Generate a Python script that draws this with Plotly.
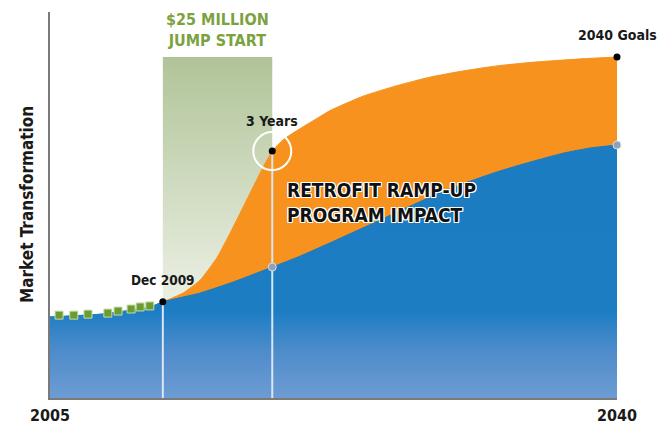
import plotly.graph_objects as go

# Timeline position runs 0 (2005) to 100 (2040); values are market transformation index (2040 goal = 100)
baseline_x = [0, 8.8, 17.6, 19.9, 26.5, 32.3, 39.2, 44.1, 49.4, 55.2, 61.2, 67.0, 72.8, 78.8, 84.7, 90.5, 95.2, 100]
baseline_y = [23.8, 24.6, 26.7, 28.2, 30.8, 34.0, 38.4, 41.6, 45.5, 49.9, 54.5, 58.9, 62.8, 66.3, 69.2, 71.8, 73.3, 74.2]

program_x = [19.9, 23.5, 26.5, 29.5, 32.3, 35.3, 37.6, 39.2, 41.1, 44.1, 47.1, 49.4, 55.2, 61.2, 67.0, 72.8, 78.8, 84.7, 90.5, 95.2, 100]
program_y = [28.2, 30.8, 34.6, 41.3, 50.1, 60.1, 67.7, 72.4, 75.7, 79.0, 82.0, 84.3, 88.5, 91.6, 94.1, 95.9, 97.4, 98.4, 99.1, 99.6, 100]

history_x = [1.6, 4.2, 6.7, 10.2, 12.0, 14.3, 15.9, 17.6]
history_y = [24.3, 24.3, 24.6, 24.9, 25.5, 26.1, 26.7, 27.0]

dec2009 = (19.9, 28.2)
three_years_x = 39.2
three_years_program = 72.4
three_years_base = 38.4
goal_x = 100
goal_program = 100
goal_base = 74.2
jump_start_top = 100

tick_vals = [0, 100]
tick_text = ["<b>2005</b>", "<b>2040</b>"]

FONT = "DejaVu Sans Condensed, DejaVu Sans, sans-serif"

fig = go.Figure()

# $25M jump-start band
fig.add_trace(go.Scatter(
    x=[dec2009[0], three_years_x, three_years_x, dec2009[0], dec2009[0]],
    y=[0, 0, jump_start_top, jump_start_top, 0],
    mode="lines", line=dict(width=0), fill="toself",
    fillgradient=dict(type="vertical", start=0, stop=jump_start_top,
                      colorscale=[[0, "#f7f9f3"], [0.35, "#e6ecdd"], [1, "#b0c498"]]),
    hoverinfo="skip", showlegend=False))

# Retrofit ramp-up program curve
fig.add_trace(go.Scatter(
    x=program_x, y=program_y, mode="lines",
    line=dict(color="#f7921e", width=1, shape="spline", smoothing=0.5),
    fill="tozeroy", fillcolor="#f7921e", hoverinfo="skip", showlegend=False))

# Business-as-usual baseline
fig.add_trace(go.Scatter(
    x=baseline_x, y=baseline_y, mode="lines",
    line=dict(color="#1b7cc2", width=1, shape="spline", smoothing=0.5),
    fill="tozeroy",
    fillgradient=dict(type="vertical", start=0, stop=75,
                      colorscale=[[0, "#6d9cd3"], [0.18, "#4f8ccb"], [0.34, "#1c7dc3"], [1, "#1b7cc2"]]),
    hoverinfo="skip", showlegend=False))

# Milestone drop lines
for mx, my in [(dec2009[0], dec2009[1]), (three_years_x, three_years_program)]:
    fig.add_trace(go.Scatter(
        x=[mx, mx], y=[0, my], mode="lines",
        line=dict(color="#dbe6f3", width=2), hoverinfo="skip", showlegend=False))

# Historical observations
fig.add_trace(go.Scatter(
    x=history_x, y=history_y, mode="markers",
    marker=dict(symbol="square", size=8, color="#6a9c30", line=dict(color="#c7dba6", width=1)),
    hoverinfo="skip", showlegend=False))

# Ring around the 3-year milestone
fig.add_trace(go.Scatter(
    x=[three_years_x], y=[three_years_program], mode="markers",
    marker=dict(symbol="circle-open", size=38, color="white", line=dict(width=2)),
    hoverinfo="skip", showlegend=False))

# Baseline milestone points
fig.add_trace(go.Scatter(
    x=[three_years_x, goal_x], y=[three_years_base, goal_base], mode="markers",
    marker=dict(size=8, color="#8ea2b8", line=dict(color="#d5dde6", width=1)),
    cliponaxis=False, hoverinfo="skip", showlegend=False))

# Program milestone points
fig.add_trace(go.Scatter(
    x=[dec2009[0], three_years_x, goal_x], y=[dec2009[1], three_years_program, goal_program],
    mode="markers", marker=dict(size=7, color="black"),
    cliponaxis=False, hoverinfo="skip", showlegend=False))

label_font = dict(family=FONT, size=14, color="#1a1a1a")
annotations = [
    dict(x=(dec2009[0] + three_years_x) / 2, y=107.8, text="<b>$25 MILLION<br>JUMP START</b>",
         font=dict(family=FONT, size=16, color="#7ba23f"), align="center"),
    dict(x=three_years_x, y=81.2, text="<b>3 Years</b>", font=label_font),
    dict(x=dec2009[0], y=34.6, text="<b>Dec 2009</b>", font=dict(family=FONT, size=13.5, color="#1a1a1a")),
    dict(x=goal_x, y=106.5, text="<b>2040 Goals</b>", font=label_font),
    dict(x=41.4, y=57.3, text="<b>RETROFIT RAMP-UP<br>PROGRAM IMPACT</b>", xanchor="left", align="left",
         font=dict(family=FONT, size=19, color="#111111",
                   shadow="1px 1px 0 #fff, -1px -1px 0 #fff, 1px -1px 0 #fff, -1px 1px 0 #fff, "
                          "0 1px 0 #fff, 0 -1px 0 #fff, 1px 0 0 #fff, -1px 0 0 #fff")),
    dict(xref="paper", yref="paper", x=0, y=0.5, xshift=-23, text="<b>Market Transformation</b>",
         textangle=-90, font=dict(family=FONT, size=17, color="#1a1a1a")),
]
for a in annotations:
    a.setdefault("xref", "x")
    a.setdefault("yref", "y")
    a.setdefault("showarrow", False)
    a.setdefault("xanchor", "center")
    a.setdefault("yanchor", "middle")

fig.update_layout(
    width=669, height=428,
    margin=dict(l=50, r=52, t=12, b=30, autoexpand=False),
    paper_bgcolor="white", plot_bgcolor="white",
    annotations=annotations,
    xaxis=dict(range=[0, 100], showgrid=False, zeroline=False, showline=True, automargin=False,
               linecolor="#7a7a7a", linewidth=2, tickvals=tick_vals, ticktext=tick_text,
               ticks="", ticklabelstandoff=2,
               tickfont=dict(family=FONT, size=16, color="#1a1a1a"), fixedrange=True),
    yaxis=dict(range=[0, 113.2], showgrid=False, zeroline=False, showline=True, automargin=False,
               linecolor="#7a7a7a", linewidth=2, showticklabels=False, ticks="", fixedrange=True),
)

fig.write_html("out.html")
